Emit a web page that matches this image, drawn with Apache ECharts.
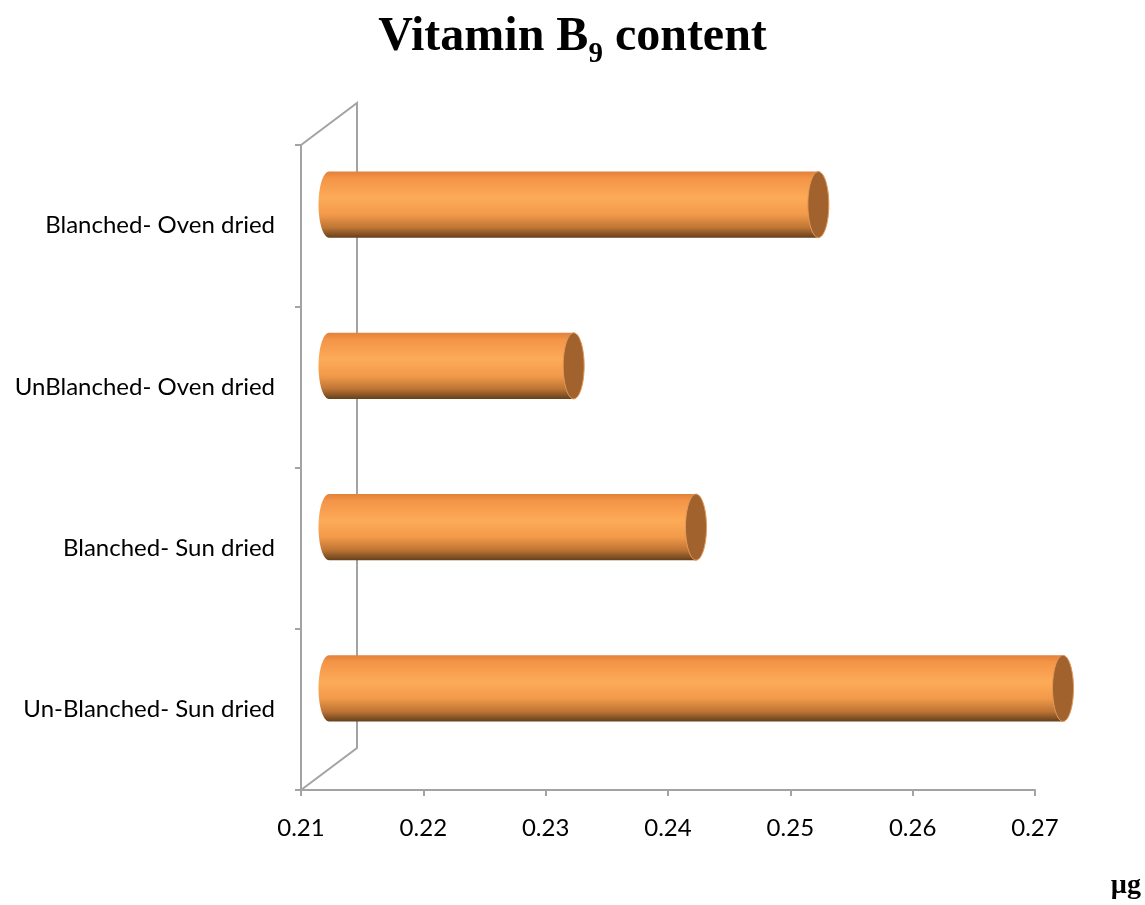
<!DOCTYPE html>
<html>
<head>
<meta charset="utf-8">
<script src="https://cdn.jsdelivr.net/npm/echarts@6/dist/echarts.min.js"></script>
<style>html,body{margin:0;padding:0;background:#fff}#chart{width:1145px;height:905px}</style>
</head>
<body>
<div id="chart"></div>
<script>
// Data
const categories = ['Blanched- Oven dried', 'UnBlanched- Oven dried', 'Blanched- Sun dried', 'Un-Blanched- Sun dried'];
const values = [0.25, 0.23, 0.24, 0.27];
const xMin = 0.21, xMax = 0.27, xStep = 0.01;
const unitLabel = 'µg';

// Style constants
const DEPTH_X = 56, DEPTH_Y = 42;
const AXIS_COLOR = '#a3a3a3';

const chart = echarts.init(document.getElementById('chart'));

function ellipsePts(cx, cy, rx, ry, a0, a1, n) {
  const pts = [];
  for (let i = 0; i <= n; i++) {
    const t = (a0 + (a1 - a0) * i / n) * Math.PI / 180;
    pts.push([cx + rx * Math.cos(t), cy + ry * Math.sin(t)]);
  }
  return pts;
}

const bodyGrad = {
  type: 'linear', x: 0, y: 0, x2: 0, y2: 1,
  colorStops: [
    { offset: 0, color: '#e2813a' },
    { offset: 0.1, color: '#f39447' },
    { offset: 0.4, color: '#fdab57' },
    { offset: 0.65, color: '#f29a4a' },
    { offset: 0.85, color: '#bd7434' },
    { offset: 1, color: '#65401c' }
  ]
};

function renderBar(params, api) {
  const v = api.value(0), c = api.value(1);
  const s = api.coord([xMin, c]);
  const e = api.coord([v, c]);
  const band = api.size([0, 1])[1];
  const ry = band * 0.205, rx = 10.5;
  const dx = DEPTH_X / 2, dy = -DEPTH_Y / 2;
  const x0 = s[0] + dx, x1 = e[0] + dx, cy = s[1] + dy;
  const body = ellipsePts(x0, cy, rx, ry, 270, 90, 30);
  body.push([x1, cy + ry], [x1, cy - ry]);
  const cap = ellipsePts(x1, cy, rx, ry, 0, 360, 48);
  return {
    type: 'group',
    children: [
      { type: 'polygon', shape: { points: body }, style: { fill: bodyGrad, stroke: null } },
      { type: 'polygon', shape: { points: cap }, style: { fill: '#a2622e', stroke: '#e39a58', lineWidth: 1 } }
    ]
  };
}

function renderWall(params, api) {
  const cs = params.coordSys;
  return {
    type: 'polyline',
    shape: { points: [
      [cs.x, cs.y],
      [cs.x + DEPTH_X, cs.y - DEPTH_Y],
      [cs.x + DEPTH_X, cs.y + cs.height - DEPTH_Y],
      [cs.x, cs.y + cs.height]
    ] },
    style: { stroke: AXIS_COLOR, lineWidth: 2, fill: null }
  };
}

chart.setOption({
  backgroundColor: '#ffffff',
  animation: false,
  title: {
    left: 'center',
    top: 5,
    text: '{a|Vitamin B}{b|9}{a| content}',
    textStyle: {
      rich: {
        a: { fontFamily: 'Liberation Serif', fontWeight: 'bold', fontSize: 48, color: '#000', lineHeight: 56 },
        b: { fontFamily: 'Liberation Serif', fontWeight: 'bold', fontSize: 29, color: '#000', lineHeight: 29, verticalAlign: 'bottom', padding: [0, 0, -3, 0] }
      }
    }
  },
  grid: { left: 301, right: 110, top: 145, bottom: 115, containLabel: false },
  xAxis: {
    type: 'value', min: xMin, max: xMax, interval: xStep,
    axisLine: { show: true, lineStyle: { color: AXIS_COLOR, width: 2 } },
    axisTick: { show: true, length: 6, lineStyle: { color: AXIS_COLOR, width: 2 } },
    splitLine: { show: false },
    axisLabel: { margin: 26, color: '#000', fontFamily: 'Lato', fontSize: 24, formatter: v => v.toFixed(2) }
  },
  yAxis: {
    type: 'category', data: categories, inverse: true,
    axisLine: { show: true, lineStyle: { color: AXIS_COLOR, width: 2 } },
    axisTick: { show: true, length: 6, lineStyle: { color: AXIS_COLOR, width: 2 } },
    splitLine: { show: false },
    axisLabel: { margin: 26, color: '#000', fontFamily: 'Lato', fontSize: 24, padding: [5, 0, 0, 0] }
  },
  graphic: [{
    type: 'text', right: 4, bottom: 5,
    style: { text: unitLabel, fontFamily: 'Liberation Serif', fontWeight: 'bold', fontSize: 28, fill: '#000' }
  }],
  series: [
    { type: 'custom', renderItem: renderWall, data: [[xMin, 0]], encode: { x: 0, y: 1 }, z: 1, silent: true },
    { type: 'custom', renderItem: renderBar, data: values.map((v, i) => [v, i]), encode: { x: 0, y: 1 }, z: 2 }
  ]
});
</script>
</body>
</html>
